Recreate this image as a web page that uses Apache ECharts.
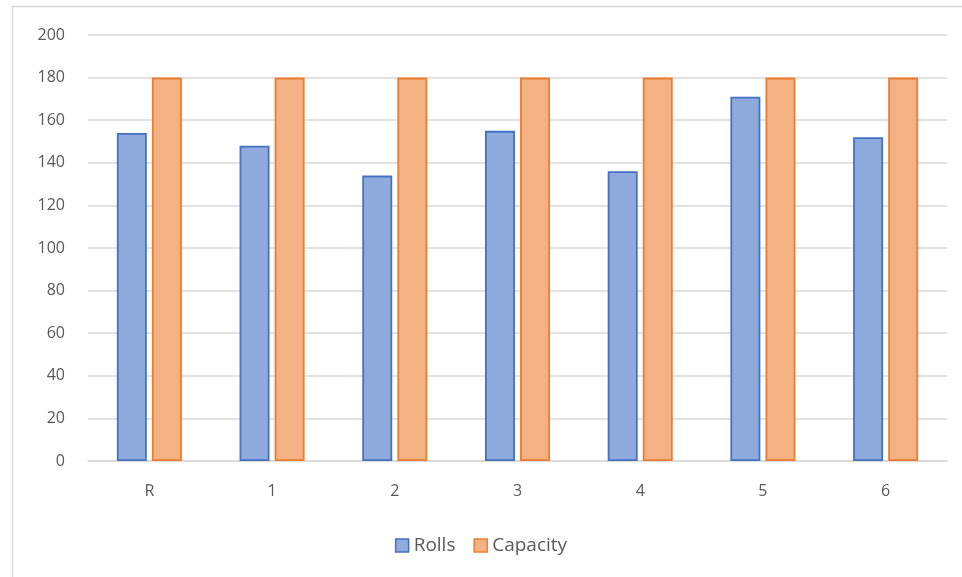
<!DOCTYPE html>
<html>
<head>
<meta charset="utf-8">
<script src="https://cdn.jsdelivr.net/npm/echarts@6/dist/echarts.min.js"></script>
<style>
  html, body { margin: 0; padding: 0; background: #fff; }
  #chart { width: 962px; height: 577px; }
</style>
</head>
<body>
<div id="chart"></div>
<script>
// Categories along the x axis
const categories = ['R', '1', '2', '3', '4', '5', '6'];
// Rolls per category
const rolls = [154, 148, 134, 155, 136, 171, 152];
// Capacity per category
const capacity = [180, 180, 180, 180, 180, 180, 180];
// Value axis ticks
const yMin = 0, yMax = 200, yStep = 20;

const FONT = '"Open Sans", "Liberation Sans", sans-serif';
const chart = echarts.init(document.getElementById('chart'), null, { renderer: 'canvas' });

chart.setOption({
  animation: false,
  backgroundColor: '#ffffff',
  graphic: [{
    type: 'rect',
    shape: { x: 12.5, y: 6.5, width: 1200, height: 1200 },
    style: { fill: 'none', stroke: '#D9D9D9', lineWidth: 1.5 },
    silent: true
  }],
  grid: { left: 88, right: 15, top: 35, bottom: 116, containLabel: false },
  legend: {
    bottom: 17,
    left: 'center',
    itemWidth: 13,
    itemHeight: 13,
    itemGap: 18,
    textStyle: { color: '#595959', fontSize: 19, fontFamily: FONT },
    data: [
      { name: 'Rolls', icon: 'rect', itemStyle: { color: '#8FAADC', borderColor: '#4472C4', borderWidth: 1.5 } },
      { name: 'Capacity', icon: 'rect', itemStyle: { color: '#F4B183', borderColor: '#ED7D31', borderWidth: 1.5 } }
    ]
  },
  xAxis: {
    type: 'category',
    data: categories,
    axisLine: { lineStyle: { color: '#D9D9D9', width: 1.5 } },
    axisTick: { show: false },
    axisLabel: { color: '#595959', fontSize: 16, fontFamily: FONT, margin: 22 }
  },
  yAxis: {
    type: 'value',
    min: yMin,
    max: yMax,
    interval: yStep,
    axisLine: { show: false },
    axisTick: { show: false },
    splitLine: { lineStyle: { color: '#D9D9D9', width: 1.5 } },
    axisLabel: { color: '#595959', fontSize: 16, fontFamily: FONT, margin: 23 }
  },
  series: [
    {
      name: 'Rolls',
      type: 'bar',
      data: rolls,
      barGap: '17%',
      barCategoryGap: '47%',
      itemStyle: { color: '#8FAADC', borderColor: '#4472C4', borderWidth: 1.8 }
    },
    {
      name: 'Capacity',
      type: 'bar',
      data: capacity,
      itemStyle: { color: '#F4B183', borderColor: '#ED7D31', borderWidth: 1.8 }
    }
  ]
});
</script>
</body>
</html>
